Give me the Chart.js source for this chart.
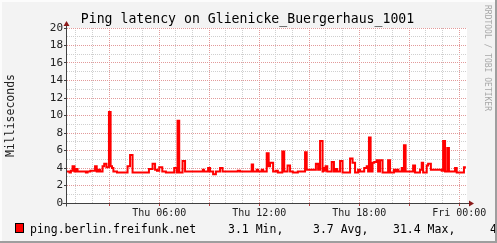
<!DOCTYPE html>
<html>
<head>
<meta charset="utf-8">
<script src="https://cdn.jsdelivr.net/npm/chart.js@4"></script>
<style>
  html, body { margin: 0; padding: 0; background: #f3f3f3; }
</style>
</head>
<body>
<canvas id="ping-chart" width="497" height="243"></canvas>
<script>
// minutes since Thu 00:00, each value is held until the next time
var times = [
    28, 37, 42, 48, 55, 60, 66, 96, 102, 112,
    129, 135, 140, 147, 156, 162, 170, 179, 185, 190,
    195, 208, 246, 255, 264, 323, 336, 345, 352, 360,
    371, 384, 414, 423, 426, 432, 444, 453, 517, 521,
    536, 543, 554, 564, 579, 588, 643, 651, 693, 698,
    711, 716, 729, 734, 747, 754, 759, 770, 780, 787,
    803, 810, 822, 831, 841, 859, 885, 891, 924, 932,
    939, 948, 950, 957, 959, 965, 981, 989, 995, 1001,
    1011, 1020, 1047, 1056, 1065, 1076, 1083, 1098, 1107, 1112,
    1115, 1121, 1128, 1134, 1143, 1148, 1155, 1164, 1184, 1191,
    1205, 1211, 1216, 1221, 1233, 1238, 1241, 1247, 1274, 1281,
    1299, 1305, 1310, 1323, 1328, 1338, 1377, 1382, 1389, 1397,
    1403, 1425, 1431, 1457, 1464
]
var latency = [
    3.6, 3.5, 3.7, 4.2, 3.6, 3.9, 3.6, 3.5, 3.6, 3.7,
    4.2, 3.6, 3.8, 3.6, 4.2, 4.5, 4.1, 10.4, 4.2, 4.0,
    3.6, 3.5, 4.2, 5.5, 3.5, 3.9, 4.5, 3.8, 3.7, 4.1,
    3.6, 3.5, 4.0, 3.5, 9.4, 3.5, 4.8, 3.6, 3.8, 3.6,
    4.0, 3.6, 3.3, 3.6, 4.0, 3.6, 3.7, 3.6, 4.4, 3.6,
    3.8, 3.6, 3.8, 3.6, 5.7, 4.2, 4.6, 3.6, 3.7, 3.5,
    5.9, 3.6, 4.3, 3.6, 3.5, 3.6, 5.8, 3.8, 4.5, 3.8,
    7.1, 3.6, 4.0, 3.7, 4.2, 3.6, 4.7, 3.6, 3.9, 3.6,
    4.8, 3.5, 5.1, 4.6, 3.5, 3.8, 3.6, 4.0, 4.2, 3.6,
    7.5, 3.6, 4.6, 4.7, 4.9, 3.6, 4.9, 3.5, 4.9, 3.5,
    3.8, 3.6, 3.8, 3.6, 4.0, 3.6, 6.6, 3.6, 4.3, 3.5,
    3.8, 4.6, 3.5, 4.3, 4.5, 3.8, 3.7, 7.1, 3.6, 6.3,
    3.6, 4.0, 3.5, 4.1, 4.1
]

var labelMinutes = [360, 720, 1080, 1440]
var labelTexts = ['Thu 06:00', 'Thu 12:00', 'Thu 18:00', 'Fri 00:00']

var titleText = 'Ping latency on Glienicke_Buergerhaus_1001'
var axisTitle = 'Milliseconds'
var seriesName = 'ping.berlin.freifunk.net'
var statValues = ['3.1', '3.7', '31.4', '4.1']
var statNames = ['Min,', 'Avg,', 'Max,', 'Last']

var mono = 'DejaVu Sans Mono'
var minorGrid = '#cfcfcf'
var majorGrid = '#e29a9a'

var points = times.map(function (t, i) {
    return { x: t, y: latency[i] }
})

var rrdLook = {
    id: 'rrdLook',
    beforeDraw: function (chart) {
        var c = chart.ctx
        var a = chart.chartArea
        c.save()
        c.fillStyle = '#f3f3f3'
        c.fillRect(0, 0, chart.width, chart.height)
        c.fillStyle = '#ffffff'
        c.fillRect(a.left, a.top, a.right - a.left, a.bottom - a.top)
        c.restore()
    },
    afterDraw: function (chart) {
        var c = chart.ctx
        var a = chart.chartArea
        var x0 = Math.round(a.left) - 0.5
        var y0 = Math.round(a.bottom) + 0.5
        c.save()

        // axes with arrows
        c.strokeStyle = '#404040'
        c.lineWidth = 1
        c.beginPath()
        c.moveTo(x0 - 4, y0)
        c.lineTo(a.right + 4, y0)
        c.moveTo(x0, y0 + 3)
        c.lineTo(x0, a.top - 3)
        c.stroke()
        c.fillStyle = '#8b1a1a'
        c.beginPath()
        c.moveTo(a.right + 7, y0)
        c.lineTo(a.right + 2, y0 - 3)
        c.lineTo(a.right + 2, y0 + 3)
        c.closePath()
        c.fill()
        c.beginPath()
        c.moveTo(x0, a.top - 7)
        c.lineTo(x0 - 3, a.top - 2)
        c.lineTo(x0 + 3, a.top - 2)
        c.closePath()
        c.fill()

        // title
        c.fillStyle = '#000000'
        c.font = '13.2px "' + mono + '"'
        c.textAlign = 'center'
        c.textBaseline = 'alphabetic'
        c.fillText(titleText, 247.5, 23)

        // legend
        c.fillStyle = '#ff0000'
        c.fillRect(15, 223, 9, 10)
        c.strokeStyle = '#000000'
        c.strokeRect(15.5, 223.5, 8, 9)
        c.fillStyle = '#000000'
        c.font = '11.5px "' + mono + '"'
        c.textAlign = 'left'
        c.fillText(seriesName, 30, 233)
        var legendX = [228, 313, 393, 490]
        statValues.forEach(function (v, i) {
            c.fillText(v + ' ' + statNames[i], legendX[i], 233)
        })

        // watermark
        c.save()
        c.translate(484, 5)
        c.rotate(Math.PI / 2)
        c.fillStyle = '#a8a8a8'
        c.font = '8px "' + mono + '"'
        c.textBaseline = 'middle'
        c.fillText('RRDTOOL / TOBI OETIKER', 0, -3)
        c.restore()

        // frame shading
        c.fillStyle = '#fcfcfc'
        c.fillRect(0, 0, chart.width, 2)
        c.fillRect(0, 0, 2, chart.height)
        c.fillStyle = '#9e9e9e'
        c.fillRect(0, chart.height - 2, chart.width, 2)
        c.fillRect(chart.width - 2, 0, 2, chart.height)
        c.restore()
    }
}

var ctx = document.getElementById('ping-chart').getContext('2d')
var pingChart = new Chart(ctx, {
    type: 'line',
    data: {
        datasets: [{
            label: seriesName,
            data: points,
            stepped: true,
            borderColor: '#ff0000',
            borderWidth: 2,
            pointRadius: 0,
            fill: false
        }]
    },
    options: {
        responsive: false,
        animation: false,
        layout: { padding: { left: 0, top: 28, right: 30, bottom: 0 } },
        plugins: {
            legend: { display: false },
            title: { display: false },
            tooltip: { enabled: false }
        },
        scales: {
            x: {
                type: 'linear',
                min: 28,
                max: 1468,
                afterBuildTicks: function (scale) {
                    var hours = []
                    for (var m = 60; m <= 1440; m += 60) hours.push({ value: m })
                    scale.ticks = hours
                },
                afterFit: function (scale) { scale.height = 40 },
                border: { display: false, dash: [1, 1] },
                grid: {
                    color: function (c) { return c.tick.value % 180 === 0 ? majorGrid : minorGrid },
                    tickColor: function (c) { return c.tick.value % 180 === 0 ? '#c04040' : 'rgba(0,0,0,0)' },
                    tickLength: 3
                },
                ticks: {
                    autoSkip: false,
                    maxRotation: 0,
                    minRotation: 0,
                    padding: 1,
                    color: '#222222',
                    font: { family: mono, size: 10 },
                    callback: function (value) {
                        var i = labelMinutes.indexOf(value)
                        return i >= 0 ? labelTexts[i] : ''
                    }
                }
            },
            y: {
                min: 0,
                max: 20,
                afterFit: function (scale) { scale.width = 67 },
                border: { display: false, dash: [1, 1] },
                grid: {
                    color: function (c) { return c.tick.value % 2 === 0 ? majorGrid : minorGrid },
                    tickColor: function (c) { return c.tick.value % 2 === 0 ? '#404040' : 'rgba(0,0,0,0)' },
                    tickLength: 3
                },
                title: {
                    display: true,
                    text: axisTitle,
                    color: '#222222',
                    font: { family: mono, size: 11.5 },
                    padding: { top: 4, bottom: 0 }
                },
                ticks: {
                    stepSize: 1,
                    autoSkip: false,
                    padding: 1,
                    color: '#222222',
                    font: { family: mono, size: 11 },
                    callback: function (value) { return value % 2 === 0 ? String(value) : '' }
                }
            }
        }
    },
    plugins: [rrdLook]
})
</script>
</body>
</html>
